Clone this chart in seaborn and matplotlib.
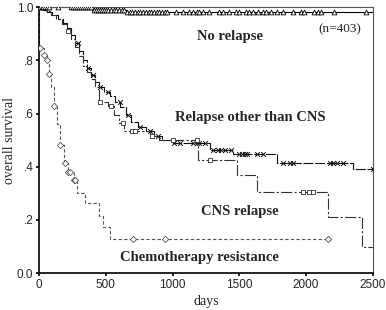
import numpy as np
import pandas as pd
import seaborn as sns
from matplotlib import pyplot as plt

# Kaplan-Meier curves: event times (days) and survival after each event
no_rel_t = [400, 650]
no_rel_s = [0.99, 0.982]
no_rel_cens = [10, 20, 30, 45, 60, 75, 140, 240, 255, 270, 285, 300, 315, 330, 345, 360, 375,
               390, 410, 425, 440, 455, 470, 485, 500, 520, 540, 560, 580, 600, 620, 640, 660,
               680, 700, 720, 740, 760, 780, 800, 820, 840, 860, 880, 900, 920, 940, 960, 1025,
               1080, 1120, 1150, 1180, 1200, 1230, 1270, 1350, 1380, 1420, 1475, 1500, 1550,
               1570, 1600, 1640, 1680, 1700, 1740, 1780, 1830, 1900, 1960, 1985, 2060, 2090,
               2110, 2210, 2450]
no_rel_end = 2500

other_t = [30, 60, 100, 140, 180, 210, 240, 270, 300, 330, 360, 390, 420, 450, 490, 530, 570,
           610, 650, 690, 740, 800, 860, 920, 1000, 1280, 1450, 1780, 2350]
other_s = [0.99, 0.98, 0.97, 0.955, 0.94, 0.92, 0.895, 0.865, 0.835, 0.80, 0.77, 0.745, 0.72,
           0.70, 0.68, 0.665, 0.645, 0.625, 0.595, 0.57, 0.55, 0.535, 0.515, 0.50, 0.49, 0.462,
           0.449, 0.415, 0.39]
other_cens = [292, 367, 404, 456, 517, 606, 666, 756, 831, 891, 1010, 1055, 1153, 1180, 1200,
              1240, 1300, 1340, 1360, 1390, 1440, 1500, 1520, 1540, 1560, 1630, 1680, 1830,
              1880, 1900, 2180, 2200, 2230, 2280, 2500]
other_end = 2500

cns_t = [50, 90, 130, 170, 210, 240, 270, 300, 330, 360, 390, 420, 450, 520, 560, 600, 640,
         830, 900, 1190, 1480, 1630, 2165, 2420]
cns_s = [0.985, 0.97, 0.955, 0.935, 0.91, 0.88, 0.85, 0.815, 0.78, 0.755, 0.73, 0.70, 0.645,
         0.63, 0.595, 0.565, 0.535, 0.515, 0.50, 0.425, 0.37, 0.306, 0.21, 0.10]
cns_cens = [217, 456, 540, 630, 696, 720, 846, 1000, 1180, 1280, 1980, 2020, 2050]
cns_end = 2500

chemo_t = [3, 37, 60, 75, 90, 112, 135, 157, 190, 215, 260, 285, 345, 451, 480, 531]
chemo_s = [0.845, 0.82, 0.80, 0.75, 0.70, 0.63, 0.56, 0.48, 0.415, 0.38, 0.35, 0.30, 0.264,
           0.215, 0.175, 0.13]
chemo_cens = [5, 40, 62, 78, 114, 160, 195, 217, 232, 265, 272, 706, 943, 2161]
chemo_end = 2161


def step_df(t, s, end):
    return pd.DataFrame({'days': [0] + list(t) + [end], 'surv': [1.0] + list(s) + [s[-1]]})


def cens_df(t, s, cens):
    idx = np.searchsorted(np.array(t), np.array(cens), side='right')
    lv = np.concatenate([[1.0], s])[idx]
    return pd.DataFrame({'days': cens, 'surv': lv})


sns.set_style('ticks')
plt.rcParams['font.family'] = ['Liberation Serif', 'DejaVu Serif']

fig = plt.figure(figsize=(3.86, 3.10), dpi=100)
ax = fig.add_axes([0.101, 0.119, 0.865, 0.858])

groups = [
    (no_rel_t, no_rel_s, no_rel_cens, no_rel_end, '-', 'black', '^', 3.0),
    (other_t, other_s, other_cens, other_end, (0, (9, 1.5)), '#111111', 'x', 3.0),
    (cns_t, cns_s, cns_cens, cns_end, (0, (10, 2, 2, 2)), '#333333', 's', 2.6),
    (chemo_t, chemo_s, chemo_cens, chemo_end, (0, (3, 2)), '#555555', 'D', 2.8),
]
for t, s, cens, end, ls, col, mk, ms in groups:
    d = step_df(t, s, end)
    sns.lineplot(data=d, x='days', y='surv', ax=ax, drawstyle='steps-post', estimator=None,
                 sort=False, color=col, lw=0.8, linestyle=ls)
    c = cens_df(t, s, cens)
    if mk == 'x':
        sns.scatterplot(data=c, x='days', y='surv', ax=ax, marker='x', s=ms ** 2 * 1.3,
                        color=col, linewidth=0.7, zorder=3)
    else:
        sns.scatterplot(data=c, x='days', y='surv', ax=ax, marker=mk, s=ms ** 2 * 1.3,
                        facecolor='white', edgecolor=col, linewidth=0.6, zorder=3)

ax.set_xlim(0, 2500)
ax.set_ylim(0, 1.0)
ax.set_xticks([0, 500, 1000, 1500, 2000, 2500])
ax.set_yticks([0, 0.2, 0.4, 0.6, 0.8, 1.0])
ax.set_yticklabels(['0.0', '.2', '.4', '.6', '.8', '1.0'])
for lab in ax.get_xticklabels() + ax.get_yticklabels():
    lab.set_family(['Liberation Sans', 'DejaVu Sans'])
    lab.set_fontsize(8.5)
ax.tick_params(length=2, width=1.2, pad=2, color='black')
for sp in ax.spines.values():
    sp.set_linewidth(0.8)
    sp.set_color('#555555')
ax.spines['left'].set_color('black')
ax.spines['bottom'].set_color('black')
ax.spines['left'].set_linewidth(1.2)
ax.spines['bottom'].set_linewidth(1.2)

ax.set_xlabel('days', fontsize=10, labelpad=3)
ax.set_ylabel('overall survival', fontsize=10, labelpad=1)

ax.text(1430, 0.89, 'No relapse', fontsize=10.5, fontweight='bold', ha='center', va='center')
ax.text(2250, 0.917, '(n=403)', fontsize=9.5, ha='center', va='center')
ax.text(1580, 0.585, 'Relapse other than CNS', fontsize=10.5, fontweight='bold',
        ha='center', va='center')
ax.text(1505, 0.23, 'CNS relapse', fontsize=10.5, fontweight='bold', ha='center', va='center')
ax.text(1205, 0.057, 'Chemotherapy resistance', fontsize=10.5, fontweight='bold',
        ha='center', va='center')

fig.savefig('out.png', dpi=100)
